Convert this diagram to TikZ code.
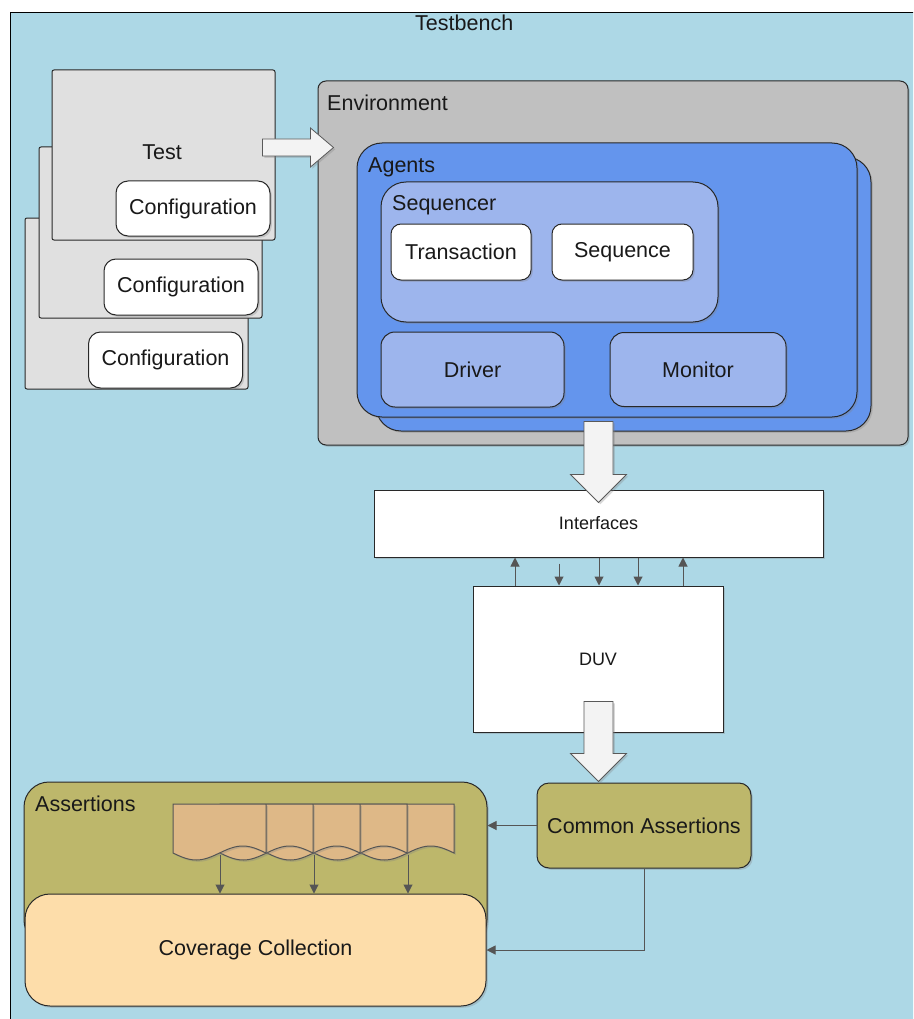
\documentclass[tikz,border=0pt]{standalone}
\usepackage{fontspec}
\setmainfont{Liberation Sans}
\usetikzlibrary{arrows.meta,shadows,calc}

\definecolor{benchblue}{RGB}{173,216,230}
\definecolor{envgray}{RGB}{192,192,192}
\definecolor{agentblue}{RGB}{100,149,237}
\definecolor{partblue}{RGB}{157,181,237}
\definecolor{sheetgray}{RGB}{224,224,224}
\definecolor{assertolive}{RGB}{189,183,107}
\definecolor{covertan}{RGB}{253,221,170}
\definecolor{doctan}{RGB}{222,184,135}
\definecolor{edge}{RGB}{40,40,40}
\definecolor{wire}{RGB}{85,85,85}
\definecolor{inktext}{RGB}{25,25,25}
\definecolor{arrowfill}{RGB}{243,243,243}

% block arrow pointing down, from #1 (top of shaft) to #2 (tip)
\newcommand\blockdown[2]{%
  \path[bigarrow] let \p1=(#1), \p2=(#2) in
    ({\x1-14.5pt},\y1) -- ({\x1+14.5pt},\y1) -- ({\x1+14.5pt},{\y2+28pt})
    -- ({\x1+28pt},{\y2+28pt}) -- (\x2,\y2) -- ({\x1-28pt},{\y2+28pt})
    -- ({\x1-14.5pt},{\y2+28pt}) -- cycle;}
% block arrow pointing right, from #1 (back of shaft) to #2 (tip)
\newcommand\blockright[2]{%
  \path[bigarrow] let \p1=(#1), \p2=(#2) in
    (\x1,{\y1+8.5pt}) -- ({\x2-23pt},{\y1+8.5pt}) -- ({\x2-23pt},{\y1+19.5pt})
    -- (\x2,\y2) -- ({\x2-23pt},{\y1-19.5pt}) -- ({\x2-23pt},{\y1-8.5pt})
    -- (\x1,{\y1-8.5pt}) -- cycle;}

\begin{document}
\begin{tikzpicture}[x=1pt,y=-1pt,
  every node/.style={font=\fontsize{21.5}{24}\selectfont, text=inktext},
  box/.style={draw=edge, line width=1pt, inner sep=0pt, align=center},
  softshadow/.style={drop shadow={shadow xshift=1.8pt, shadow yshift=-1.8pt, opacity=0.3}},
  tag/.style={inner sep=0pt, anchor=base west},
  smalltext/.style={font=\fontsize{18}{20}\selectfont},
  sheet/.style={box, fill=sheetgray, rounded corners=2pt, minimum width=223, minimum height=171},
  conf/.style={box, fill=white, rounded corners=12pt, minimum width=154, minimum height=56, softshadow},
  part/.style={box, fill=partblue, softshadow},
  item/.style={box, fill=white, rounded corners=10pt, minimum width=140, minimum height=56, softshadow},
  plain/.style={box, fill=white, softshadow},
  link/.style={draw=wire, line width=1pt, -{Triangle[width=9pt,length=9pt]}},
  bigarrow/.style={fill=arrowfill, draw=gray!70!black, line width=0.8pt, softshadow},
  docpage/.style={fill=doctan, draw=wire, line width=1pt, softshadow}]

\useasboundingbox (0,0) rectangle (913,1019);
\fill[white] (0,0) rectangle (913,1019);
\begin{scope}
  \clip (0,0) rectangle (913,1019);
  \draw[fill=benchblue, draw=black, line width=1pt] (10,13) rectangle (940,1040);
\end{scope}
\node[tag] (benchlabel) at (415,31) {Testbench};

% stacked tests with their configurations
\node[sheet] (sheet3) at (136.5,303.5) {};
\node[conf] (conf3) at (165.5,360) {Configuration};
\node[sheet] (sheet2) at (150.5,232.5) {};
\node[conf] (conf2) at (181,287) {Configuration};
\node[sheet, minimum height=170] (test) at (163.5,155) {};
\node (testlabel) at (162,152) {Test};
\node[conf, minimum height=55] (conf1) at (193,208.5) {Configuration};

% environment and agents
\node[box, fill=envgray, rounded corners=8pt, minimum width=590, minimum height=364, softshadow] (env) at (613,263) {};
\node[tag] (envlabel) at (327,111) {Environment};
\node[box, fill=agentblue, rounded corners=25pt, minimum width=495, minimum height=274, softshadow] (agentsback) at (623.5,294) {};
\node[box, fill=agentblue, rounded corners=25pt, minimum width=500, minimum height=274, softshadow] (agents) at (607,280) {};
\node[tag] (agentslabel) at (368,172) {Agents};
\node[part, rounded corners=25pt, minimum width=337, minimum height=140] (seq) at (549.5,252) {};
\node[tag] (seqlabel) at (392,211) {Sequencer};
\node[item] (trans) at (461,252) {Transaction};
\node[item, minimum width=141] (sequence) at (622.5,252) {Sequence};
\node[part, rounded corners=14pt, minimum width=183, minimum height=75] (driver) at (472.5,369.5) {Driver};
\node[part, rounded corners=14pt, minimum width=176, minimum height=74] (monitor) at (698,369.5) {Monitor};

% interfaces and design under verification
\node[plain, smalltext, minimum width=449, minimum height=67] (ifc) at (598.5,523.5) {Interfaces};
\node[plain, smalltext, minimum width=250, minimum height=146] (duv) at (598,659) {DUV};

\coordinate (p1) at (515,0);
\coordinate (p2) at (559,0);
\coordinate (p3) at (599,0);
\coordinate (p4) at (638,0);
\coordinate (p5) at (683,0);
\draw[link] (p1 |- duv.north) -- (p1 |- ifc.south);
\draw[link] ([yshift=-6pt]p2 |- ifc.south) -- (p2 |- duv.north);
\draw[link] (p3 |- ifc.south) -- (p3 |- duv.north);
\draw[link] (p4 |- ifc.south) -- (p4 |- duv.north);
\draw[link] (p5 |- duv.north) -- (p5 |- ifc.south);

% common assertions
\node[box, fill=assertolive, rounded corners=12pt, minimum width=214, minimum height=85, softshadow] (common) at (644,825.5) {Common Assertions};

% assertions with coverage collection
\node[box, fill=assertolive, rounded corners=25pt, minimum width=463, minimum height=163, softshadow] (assert) at (255.5,863.5) {};
\node[tag] (assertlabel) at (35,811) {Assertions};

% overlapping report pages with wavy lower edges (half wave 46.5 wide)
\foreach \a in {361,314,267,220,173} {
  \path[docpage] (\a,804) -- (\a,853)
    -- plot[domain=\a:\a+93, samples=40, variable=\t] (\t,{853+7*sin(3.871*(\t-\a))})
    -- (\a+93,804) -- cycle;
}

\node[box, fill=covertan, rounded corners=25pt, minimum width=461, minimum height=112, softshadow] (cover) at (255.5,950) {Coverage Collection};

\coordinate (d1) at (220,855);
\coordinate (d2) at (314,855);
\coordinate (d3) at (408,855);
\draw[link] (d1) -- (d1 |- cover.north);
\draw[link] (d2) -- (d2 |- cover.north);
\draw[link] (d3) -- (d3 |- cover.north);

\draw[link] (common.west) -- (common.west -| assert.east);
\draw[link] (common.south) |- (cover.east);

% block arrows
\coordinate (a1s) at ($(ifc.north)+(0,-68)$);
\coordinate (a1t) at ($(ifc.north)+(0,13)$);
\blockdown{a1s}{a1t}
\coordinate (a2s) at ($(duv.south)+(0.5,-31)$);
\coordinate (a2t) at ($(duv.south)+(0.5,49)$);
\blockdown{a2s}{a2t}
\coordinate (a3s) at ($(test.east)+(-13,-7.5)$);
\coordinate (a3t) at ($(test.east)+(58,-7.5)$);
\blockright{a3s}{a3t}

\end{tikzpicture}
\end{document}
